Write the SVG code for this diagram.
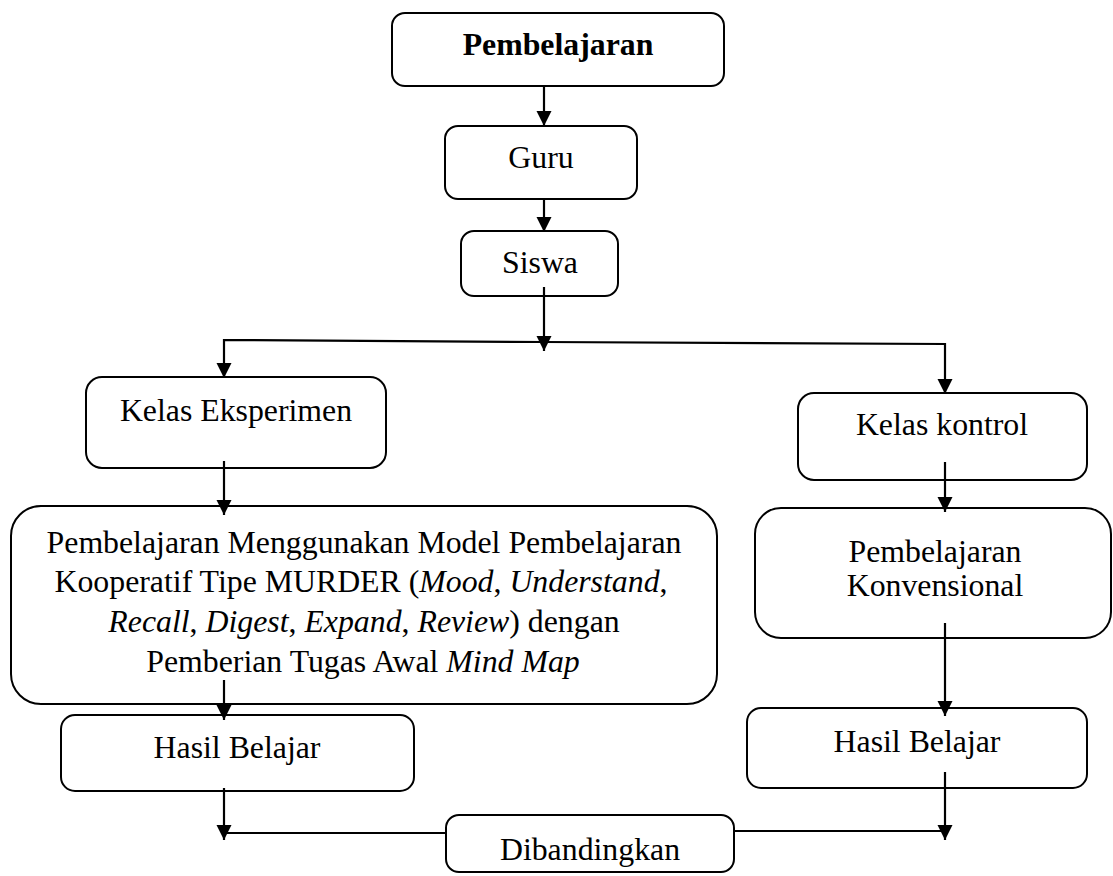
<svg xmlns="http://www.w3.org/2000/svg" width="1113" height="876" viewBox="0 0 1113 876">
<style>
  .box { fill: #ffffff; stroke: #000000; stroke-width: 2; }
  .t { font-family: "Liberation Serif", "Times New Roman", serif; font-size: 31.8px; fill: #000000; text-anchor: middle; }
  .b { font-weight: bold; }
  .i { font-style: italic; }
  .c { fill: none; stroke: #000000; stroke-width: 2.2; }
</style>
<defs>
  <marker id="ah" markerUnits="userSpaceOnUse" markerWidth="16" markerHeight="16" viewBox="0 0 16 16" refX="15" refY="8" orient="auto">
    <path d="M0,0.5 L15,8 L0,15.5 Z" fill="#000000"/>
  </marker>
</defs>
<rect width="1113" height="876" fill="#ffffff"/>

<g id="n-pembelajaran">
  <rect class="box" x="392" y="13" width="332" height="73" rx="13"/>
  <text class="t b" x="558" y="55">Pembelajaran</text>
</g>
<g id="n-guru">
  <rect class="box" x="445" y="126" width="192" height="73" rx="13"/>
  <text class="t" x="541" y="168">Guru</text>
</g>
<g id="n-siswa">
  <rect class="box" x="461" y="231" width="157" height="65" rx="13"/>
  <text class="t" x="540" y="273">Siswa</text>
</g>
<g id="n-kelas-eksperimen">
  <rect class="box" x="86" y="377" width="300" height="91" rx="16"/>
  <text class="t" x="236" y="421">Kelas Eksperimen</text>
</g>
<g id="n-kelas-kontrol">
  <rect class="box" x="798" y="393" width="289" height="87" rx="16"/>
  <text class="t" x="942" y="435">Kelas kontrol</text>
</g>
<g id="n-murder">
  <rect class="box" x="11" y="506" width="706" height="198" rx="30"/>
  <text class="t" x="364" y="553">Pembelajaran Menggunakan Model Pembelajaran</text>
  <text class="t" x="361" y="592">Kooperatif Tipe MURDER (<tspan class="i">Mood</tspan>, <tspan class="i">Understand</tspan>,</text>
  <text class="t" x="364" y="632"><tspan class="i">Recall</tspan>, <tspan class="i">Digest</tspan>, <tspan class="i">Expand</tspan>, <tspan class="i">Review</tspan>) dengan</text>
  <text class="t" x="363" y="672">Pemberian Tugas Awal <tspan class="i">Mind Map</tspan></text>
</g>
<g id="n-konvensional">
  <rect class="box" x="755" y="508" width="356" height="130" rx="26"/>
  <text class="t" x="935" y="562">Pembelajaran</text>
  <text class="t" x="935" y="596">Konvensional</text>
</g>
<g id="n-hasil-kiri">
  <rect class="box" x="61" y="715" width="353" height="76" rx="14"/>
  <text class="t" x="237" y="758">Hasil Belajar</text>
</g>
<g id="n-hasil-kanan">
  <rect class="box" x="747" y="708" width="340" height="80" rx="14"/>
  <text class="t" x="917" y="752">Hasil Belajar</text>
</g>
<g id="n-dibandingkan">
  <rect class="box" x="446" y="815" width="288" height="57" rx="13"/>
  <text class="t" x="590" y="860">Dibandingkan</text>
</g>

<g id="connectors">
  <path class="c" d="M544,86 L544,126" marker-end="url(#ah)"/>
  <path class="c" d="M544,199 L544,232" marker-end="url(#ah)"/>
  <path class="c" d="M544,287 L544,351" marker-end="url(#ah)"/>
  <path class="c" d="M544,342 L224,340 L224,378" marker-end="url(#ah)"/>
  <path class="c" d="M544,342 L945,344 L945,394" marker-end="url(#ah)"/>
  <path class="c" d="M224,461 L224,515" marker-end="url(#ah)"/>
  <path class="c" d="M224,680 L224,720" marker-end="url(#ah)"/>
  <path class="c" d="M224,788 L224,840" marker-end="url(#ah)"/>
  <path class="c" d="M224,833 L446,833"/>
  <path class="c" d="M945,462 L945,512" marker-end="url(#ah)"/>
  <path class="c" d="M945,623 L945,716" marker-end="url(#ah)"/>
  <path class="c" d="M945,772 L945,840" marker-end="url(#ah)"/>
  <path class="c" d="M734,831 L945,831"/>
</g>
</svg>
